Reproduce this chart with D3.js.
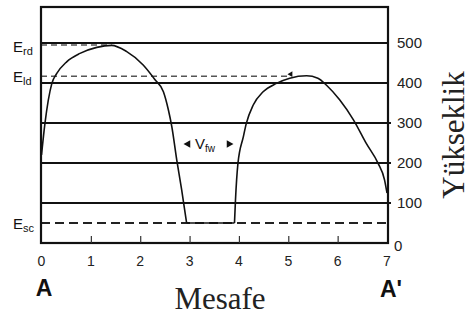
<!DOCTYPE html>
<html>
<head>
<meta charset="utf-8">
<script src="https://cdn.jsdelivr.net/npm/d3@7"></script>
<style>
  body { margin: 0; background: #fff; }
  svg { display: block; }
</style>
</head>
<body>
<div class="canvas"></div>
<script>
// distance ticks (A -> A') and elevation ticks
const xTicks = [0, 1, 2, 3, 4, 5, 6, 7];
const yTicks = [0, 100, 200, 300, 400, 500];
const extendedTicks = [100, 200, 300];

// ground profile left of the valley [distance, elevation]
const leftProfile = [
    [0, 220], [0.07, 299], [0.21, 399], [0.31, 424], [0.51, 453], [0.78, 474],
    [1.12, 489], [1.42, 494], [1.72, 479], [2.06, 445], [2.30, 408], [2.47, 378],
    [2.57, 333], [2.64, 291], [2.74, 208], [2.84, 133], [2.94, 50]
];
// valley floor
const valleyFloor = [[2.94, 50], [3.91, 50]];
// ground profile right of the valley
const rightProfile = [
    [3.91, 50], [3.93, 107], [3.98, 199], [4.09, 266], [4.15, 299], [4.29, 345],
    [4.49, 378], [4.76, 399], [5.03, 412], [5.37, 418], [5.60, 412], [5.77, 395],
    [6.04, 358], [6.32, 308], [6.58, 249], [6.82, 199], [6.95, 158], [7, 125]
];

// reference levels
const levelNames = ['E', 'E', 'E'];
const levelSubs = ['rd', 'ld', 'sc'];
const levelValues = [495, 417, 50];
const levelEnds = [1.42, 5.05, 7];

const width = 470, height = 320;
const frame = { left: 41, right: 388, top: 7, bottom: 243 };

const svg = d3.select('.canvas')
    .append('svg')
    .attr('width', width)
    .attr('height', height);

const x = d3.scaleLinear()
    .domain([0, 7])
    .range([41.5, 387]);

const y = d3.scaleLinear()
    .domain([0, 590])
    .range([frame.bottom, frame.top]);

// horizontal elevation lines
svg.selectAll('line.grid')
    .data(yTicks.filter(d => d > 0))
    .enter()
    .append('line')
    .attr('class', 'grid')
    .attr('x1', frame.left)
    .attr('x2', d => extendedTicks.includes(d) ? frame.right + 3 : frame.right)
    .attr('y1', d => y(d))
    .attr('y2', d => y(d))
    .attr('stroke', '#111')
    .attr('stroke-width', 2);

// dashed reference levels
svg.selectAll('line.level')
    .data(levelValues)
    .enter()
    .append('line')
    .attr('class', 'level')
    .attr('x1', frame.left)
    .attr('x2', (d, i) => i === 2 ? frame.right : x(levelEnds[i]))
    .attr('y1', d => y(d))
    .attr('y2', d => y(d))
    .attr('stroke', (d, i) => i === 2 ? '#222' : '#555')
    .attr('stroke-width', (d, i) => i === 2 ? 2 : 1.6)
    .attr('stroke-dasharray', (d, i) => i === 2 ? '9,5' : '6,4');

// small arrow tip at end of E_ld line
svg.append('path')
    .attr('d', d3.symbol().type(d3.symbolTriangle).size(14))
    .attr('transform', `translate(${x(levelEnds[1])}, ${y(levelValues[1]) - 2}) rotate(30)`)
    .attr('fill', '#111');

// level labels
const lvl = svg.selectAll('text.level')
    .data(levelValues)
    .enter()
    .append('text')
    .attr('class', 'level')
    .attr('x', 13)
    .attr('y', (d, i) => i === 0 ? 52 : y(d) + 6)
    .attr('font-family', 'Liberation Sans, Arial, sans-serif')
    .attr('font-size', '15px')
    .attr('fill', '#111');
lvl.append('tspan').text((d, i) => levelNames[i]);
lvl.append('tspan')
    .attr('font-size', '11px')
    .attr('dy', 3)
    .text((d, i) => levelSubs[i]);

// frame
svg.append('rect')
    .attr('x', frame.left)
    .attr('y', frame.top)
    .attr('width', frame.right - frame.left)
    .attr('height', frame.bottom - frame.top)
    .attr('fill', 'none')
    .attr('stroke', '#111')
    .attr('stroke-width', 2.2);

// bottom axis: inner ticks
const xAxis = d3.axisTop(x)
    .tickValues(xTicks.slice(1, -1))
    .tickSize(7)
    .tickFormat('');
svg.append('g')
    .attr('transform', `translate(0, ${frame.bottom})`)
    .call(xAxis)
    .call(g => g.select('.domain').remove())
    .call(g => g.selectAll('line').attr('stroke', '#333').attr('stroke-width', 1.2));

// bottom tick labels
svg.selectAll('text.xtick')
    .data(xTicks)
    .enter()
    .append('text')
    .attr('class', 'xtick')
    .attr('x', d => x(d))
    .attr('y', 266)
    .attr('text-anchor', 'middle')
    .attr('font-family', 'Liberation Sans, Arial, sans-serif')
    .attr('font-size', '14px')
    .attr('fill', '#222')
    .text(d => d);

// right tick labels
svg.selectAll('text.ytick')
    .data(yTicks)
    .enter()
    .append('text')
    .attr('class', 'ytick')
    .attr('x', d => d === 0 ? 394 : 397)
    .attr('y', d => d === 0 ? y(d) + 8 : y(d) + 5)
    .attr('font-family', 'Liberation Sans, Arial, sans-serif')
    .attr('font-size', '15px')
    .attr('fill', '#222')
    .text(d => d);

// terrain profile
const line = d3.line()
    .x(d => x(d[0]))
    .y(d => y(d[1]))
    .curve(d3.curveMonotoneX);

[leftProfile, valleyFloor, rightProfile].forEach(seg => {
    svg.append('path')
        .datum(seg)
        .attr('d', line)
        .attr('fill', 'none')
        .attr('stroke', '#111')
        .attr('stroke-width', 1.6);
});

// valley width label
const vy = 144;
svg.append('path')
    .attr('d', d3.symbol().type(d3.symbolTriangle).size(26))
    .attr('transform', `translate(188, ${vy}) rotate(-90)`)
    .attr('fill', '#111');
svg.append('path')
    .attr('d', d3.symbol().type(d3.symbolTriangle).size(26))
    .attr('transform', `translate(229, ${vy}) rotate(90)`)
    .attr('fill', '#111');
const vfw = svg.append('text')
    .attr('x', 195)
    .attr('y', vy + 5)
    .attr('font-family', 'Liberation Sans, Arial, sans-serif')
    .attr('font-size', '15px')
    .attr('fill', '#111');
vfw.append('tspan').text('V');
vfw.append('tspan').attr('font-size', '10px').attr('dy', 3).text('fw');

// section end labels
svg.append('text')
    .attr('x', 44)
    .attr('y', 296)
    .attr('text-anchor', 'middle')
    .attr('font-family', 'Liberation Sans, Arial, sans-serif')
    .attr('font-weight', 'bold')
    .attr('font-size', '23px')
    .attr('fill', '#111')
    .text('A');
svg.append('text')
    .attr('x', 380)
    .attr('y', 297)
    .attr('font-family', 'Liberation Sans, Arial, sans-serif')
    .attr('font-weight', 'bold')
    .attr('font-size', '23px')
    .attr('fill', '#111')
    .text("A'");

// axis titles
svg.append('text')
    .attr('x', 220)
    .attr('y', 309)
    .attr('text-anchor', 'middle')
    .attr('font-family', 'Liberation Serif, Times New Roman, serif')
    .attr('font-size', '31px')
    .attr('fill', '#222')
    .text('Mesafe');
svg.append('text')
    .attr('transform', 'translate(464, 135) rotate(-90)')
    .attr('text-anchor', 'middle')
    .attr('font-family', 'Liberation Serif, Times New Roman, serif')
    .attr('font-size', '31px')
    .attr('fill', '#222')
    .text('Yükseklik');
</script>
</body>
</html>
